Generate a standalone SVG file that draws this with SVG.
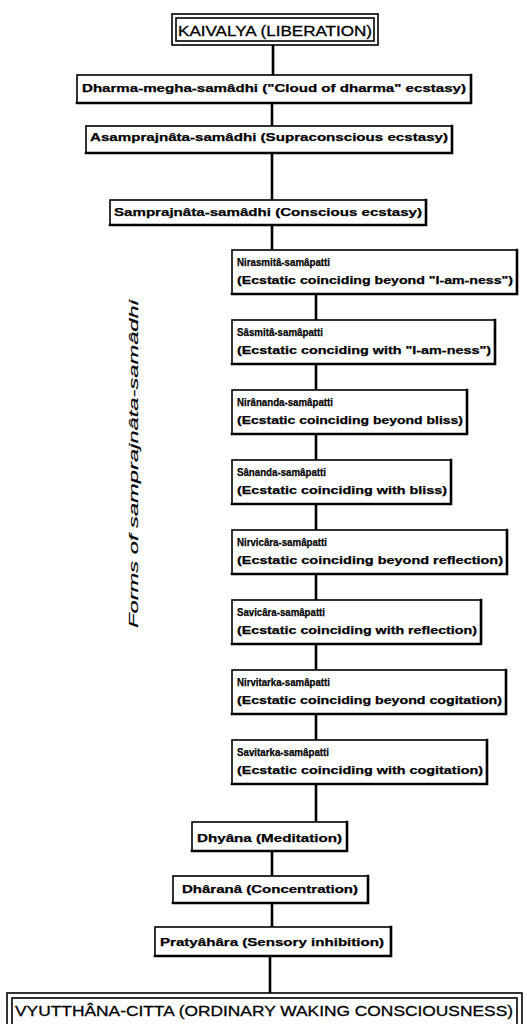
<svg xmlns="http://www.w3.org/2000/svg" width="527" height="1024" viewBox="0 0 527 1024">
  <style>
    .box { fill: #fff; stroke: #000; stroke-width: 1.6; }
    .edge { fill: none; stroke: #000; stroke-width: 2.6; stroke-linecap: square; }
    .wire { fill: none; stroke: #000; stroke-width: 2.6; }
    .hd, .l1, .l2 { font-family: "Liberation Sans", Arial, sans-serif; font-weight: bold; fill: #000; stroke: #000; stroke-width: 0.25; }
    .hd { font-size: 11.5px; }
    .l1 { font-size: 11px; }
    .l2 { font-size: 11px; }
    .cap { font-family: "Liberation Sans", Arial, sans-serif; font-weight: normal; fill: #000; stroke: #000; stroke-width: 0.3; }
    .side { font-family: "Liberation Sans", Arial, sans-serif; font-style: italic; font-size: 13px; fill: #000; stroke: #000; stroke-width: 0.2; }
  </style>

  <!-- connectors -->
  <g id="connectors">
    <line class="wire" x1="273" y1="45" x2="273" y2="75"/>
    <line class="wire" x1="272" y1="103" x2="272" y2="126"/>
    <line class="wire" x1="272" y1="153" x2="272" y2="200"/>
    <line class="wire" x1="272" y1="225" x2="272" y2="250"/>
    <line class="wire" x1="316" y1="294" x2="316" y2="320"/>
    <line class="wire" x1="316" y1="364" x2="316" y2="390"/>
    <line class="wire" x1="316" y1="434" x2="316" y2="460"/>
    <line class="wire" x1="316" y1="504" x2="316" y2="530"/>
    <line class="wire" x1="316" y1="574" x2="316" y2="600"/>
    <line class="wire" x1="316" y1="644" x2="316" y2="670"/>
    <line class="wire" x1="316" y1="714" x2="316" y2="740"/>
    <line class="wire" x1="316" y1="784" x2="316" y2="822"/>
    <line class="wire" x1="272" y1="851" x2="272" y2="876"/>
    <line class="wire" x1="272" y1="903" x2="272" y2="927"/>
    <line class="wire" x1="270" y1="956" x2="270" y2="993"/>
  </g>

  <!-- top: liberation -->
  <g id="kaivalya">
    <rect class="box" x="172" y="14" width="206" height="31"/>
    <rect class="box" x="176" y="18" width="198" height="23"/>
    <text class="cap" x="275" y="36" font-size="14" text-anchor="middle" textLength="194" lengthAdjust="spacingAndGlyphs">KAIVALYA (LIBERATION)</text>
  </g>

  <g id="dharma-megha">
    <rect class="box" x="77" y="75" width="394" height="28"/>
    <path class="edge" d="M471 75 V103 H77"/>
    <text class="hd" x="274" y="92" text-anchor="middle" textLength="384" lengthAdjust="spacingAndGlyphs">Dharma-megha-samâdhi ("Cloud of dharma" ecstasy)</text>
  </g>

  <g id="asamprajnata">
    <rect class="box" x="86" y="126" width="366" height="27"/>
    <path class="edge" d="M452 126 V153 H86"/>
    <text class="hd" x="269" y="141" text-anchor="middle" textLength="358" lengthAdjust="spacingAndGlyphs">Asamprajnâta-samâdhi (Supraconscious ecstasy)</text>
  </g>

  <g id="samprajnata">
    <rect class="box" x="110" y="200" width="316" height="25"/>
    <path class="edge" d="M426 200 V225 H110"/>
    <text class="hd" x="268" y="216" text-anchor="middle" textLength="308" lengthAdjust="spacingAndGlyphs">Samprajnâta-samâdhi (Conscious ecstasy)</text>
  </g>

  <!-- forms of samprajnata-samadhi -->
  <g id="nirasmita">
    <rect class="box" x="232" y="250" width="285" height="44"/>
    <path class="edge" d="M517 250 V294 H232"/>
    <text class="l1" x="237" y="265.5" textLength="93" lengthAdjust="spacingAndGlyphs">Nirasmitâ-samâpatti</text>
    <text class="l2" x="237" y="283.5" textLength="276" lengthAdjust="spacingAndGlyphs">(Ecstatic coinciding beyond "I-am-ness")</text>
  </g>

  <g id="sasmita">
    <rect class="box" x="232" y="320" width="263" height="44"/>
    <path class="edge" d="M495 320 V364 H232"/>
    <text class="l1" x="237" y="335.5" textLength="86" lengthAdjust="spacingAndGlyphs">Sâsmitâ-samâpatti</text>
    <text class="l2" x="237" y="353.5" textLength="254" lengthAdjust="spacingAndGlyphs">(Ecstatic conciding with "I-am-ness")</text>
  </g>

  <g id="nirananda">
    <rect class="box" x="232" y="390" width="235" height="44"/>
    <path class="edge" d="M467 390 V434 H232"/>
    <text class="l1" x="237" y="405.5" textLength="96" lengthAdjust="spacingAndGlyphs">Nirânanda-samâpatti</text>
    <text class="l2" x="237" y="423.5" textLength="226" lengthAdjust="spacingAndGlyphs">(Ecstatic coinciding beyond bliss)</text>
  </g>

  <g id="sananda">
    <rect class="box" x="232" y="460" width="219" height="44"/>
    <path class="edge" d="M451 460 V504 H232"/>
    <text class="l1" x="237" y="475.5" textLength="89" lengthAdjust="spacingAndGlyphs">Sânanda-samâpatti</text>
    <text class="l2" x="237" y="493.5" textLength="210" lengthAdjust="spacingAndGlyphs">(Ecstatic coinciding with bliss)</text>
  </g>

  <g id="nirvicara">
    <rect class="box" x="232" y="530" width="275" height="44"/>
    <path class="edge" d="M507 530 V574 H232"/>
    <text class="l1" x="237" y="545.5" textLength="90" lengthAdjust="spacingAndGlyphs">Nirvicâra-samâpatti</text>
    <text class="l2" x="237" y="563.5" textLength="266" lengthAdjust="spacingAndGlyphs">(Ecstatic coinciding beyond reflection)</text>
  </g>

  <g id="savicara">
    <rect class="box" x="232" y="600" width="249" height="44"/>
    <path class="edge" d="M481 600 V644 H232"/>
    <text class="l1" x="237" y="615.5" textLength="88" lengthAdjust="spacingAndGlyphs">Savicâra-samâpatti</text>
    <text class="l2" x="237" y="633.5" textLength="240" lengthAdjust="spacingAndGlyphs">(Ecstatic coinciding with reflection)</text>
  </g>

  <g id="nirvitarka">
    <rect class="box" x="232" y="670" width="274" height="44"/>
    <path class="edge" d="M506 670 V714 H232"/>
    <text class="l1" x="237" y="685.5" textLength="93" lengthAdjust="spacingAndGlyphs">Nirvitarka-samâpatti</text>
    <text class="l2" x="237" y="703.5" textLength="265" lengthAdjust="spacingAndGlyphs">(Ecstatic coinciding beyond cogitation)</text>
  </g>

  <g id="savitarka">
    <rect class="box" x="232" y="740" width="255" height="44"/>
    <path class="edge" d="M487 740 V784 H232"/>
    <text class="l1" x="237" y="755.5" textLength="92" lengthAdjust="spacingAndGlyphs">Savitarka-samâpatti</text>
    <text class="l2" x="237" y="773.5" textLength="246" lengthAdjust="spacingAndGlyphs">(Ecstatic coinciding with cogitation)</text>
  </g>

  <!-- lower stages -->
  <g id="dhyana">
    <rect class="box" x="192" y="822" width="155" height="29"/>
    <path class="edge" d="M347 822 V851 H192"/>
    <text class="hd" x="269.5" y="842" text-anchor="middle" textLength="145" lengthAdjust="spacingAndGlyphs">Dhyâna (Meditation)</text>
  </g>

  <g id="dharana">
    <rect class="box" x="173" y="876" width="195" height="27"/>
    <path class="edge" d="M368 876 V903 H173"/>
    <text class="hd" x="270" y="893" text-anchor="middle" textLength="176" lengthAdjust="spacingAndGlyphs">Dhâranâ (Concentration)</text>
  </g>

  <g id="pratyahara">
    <rect class="box" x="155" y="927" width="236" height="29"/>
    <path class="edge" d="M391 927 V956 H155"/>
    <text class="hd" x="272" y="946" text-anchor="middle" textLength="224" lengthAdjust="spacingAndGlyphs">Pratyâhâra (Sensory inhibition)</text>
  </g>

  <!-- bottom: ordinary consciousness -->
  <g id="vyutthana">
    <rect class="box" x="7" y="993" width="515" height="40"/>
    <rect class="box" x="12" y="998" width="505" height="32"/>
    <text class="cap" x="264" y="1015.5" font-size="15.5" text-anchor="middle" textLength="498" lengthAdjust="spacingAndGlyphs">VYUTTHÂNA-CITTA (ORDINARY WAKING CONSCIOUSNESS)</text>
  </g>

  <g id="side-label">
    <text class="side" transform="translate(137.5,464) rotate(-90)" text-anchor="middle" textLength="328" lengthAdjust="spacingAndGlyphs">Forms of samprajnâta-samâdhi</text>
  </g>
</svg>
